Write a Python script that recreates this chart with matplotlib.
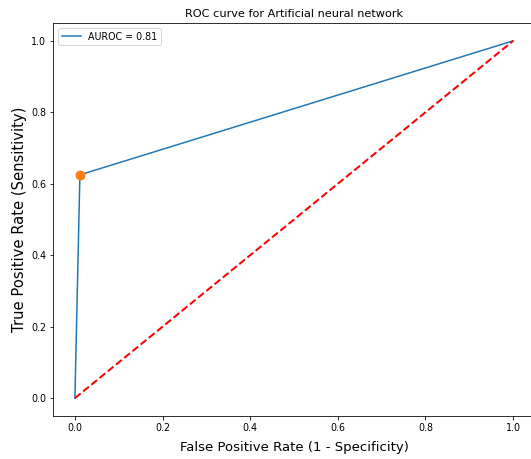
import matplotlib
matplotlib.use('Agg')
import matplotlib.pyplot as plt

# ROC points
fpr = [0.0, 0.0114, 1.0]
tpr = [0.0, 0.625, 1.0]
auroc = 0.81
threshold_fpr = [0.0114]
threshold_tpr = [0.625]
chance = [0.0, 1.0]

W, H, DPI = 531, 459, 72
fig = plt.figure(figsize=(W / DPI, H / DPI), dpi=DPI)
# axes runs slightly past the right edge, like the cropped original
ax = fig.add_axes([53 / W, (H - 416) / H, (535 - 53) / W, (416 - 23) / H])

ax.plot(fpr, tpr, label=f'AUROC = {auroc}')
ax.plot(threshold_fpr, threshold_tpr, 'o', color='tab:orange', markersize=9)
ax.plot(chance, chance, 'r--', linewidth=2)

ax.set_xlabel('False Positive Rate (1 - Specificity)', fontsize=13.3, labelpad=8)
ax.set_ylabel('True Positive Rate (Sensitivity)', fontsize=14.8)
ax.set_title('ROC curve for Artificial neural network', fontsize=11.2)
ax.tick_params(labelsize=9.5)
ax.legend(loc='upper left', fontsize=9.5)

plt.savefig('out.png', dpi=DPI)
plt.close()
